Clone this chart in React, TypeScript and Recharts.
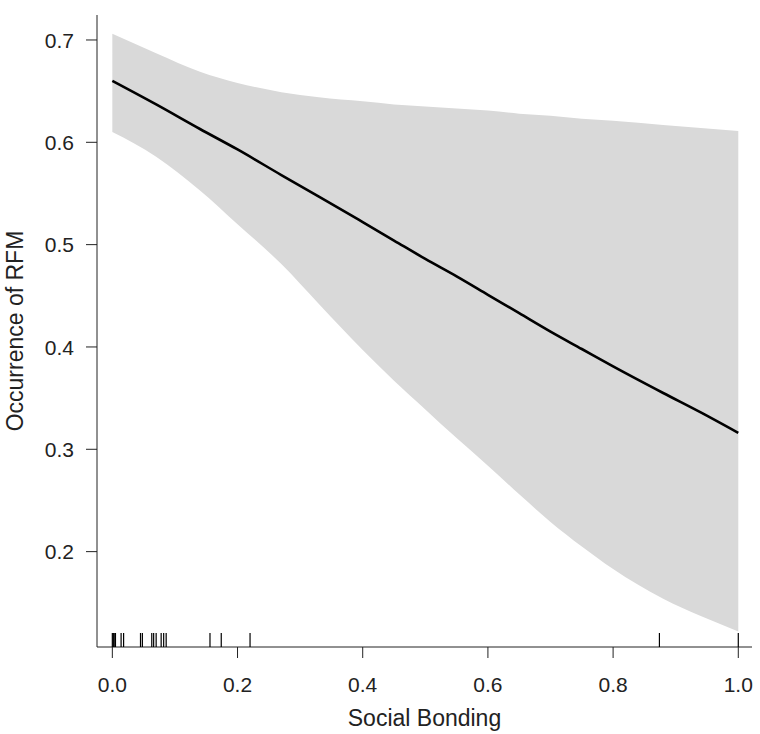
import React from 'react';
import { ComposedChart, Area, Line, Scatter, XAxis, YAxis, Label } from 'recharts';

// Social bonding values at which the fitted curve and its confidence band were read
const xs = [0, 0.07, 0.14, 0.2, 0.27, 0.33, 0.4, 0.45, 0.5, 0.55, 0.6, 0.65, 0.7, 0.75, 0.8, 0.88, 0.94, 1.0];
// Fitted occurrence of RFM
const fit = [0.660, 0.637, 0.613, 0.593, 0.568, 0.547, 0.522, 0.504, 0.486, 0.469, 0.451, 0.433, 0.415, 0.398, 0.381, 0.355, 0.336, 0.316];
// Upper confidence limit
const upper = [0.706, 0.687, 0.669, 0.658, 0.649, 0.644, 0.640, 0.637, 0.635, 0.633, 0.631, 0.628, 0.626, 0.623, 0.621, 0.617, 0.614, 0.611];
// Lower confidence limit
const lower = [0.610, 0.586, 0.553, 0.520, 0.481, 0.442, 0.397, 0.367, 0.339, 0.311, 0.284, 0.256, 0.229, 0.205, 0.183, 0.154, 0.137, 0.122];
// Rug: observed social bonding values
const rug = [0, 0.0016, 0.003, 0.005, 0.014, 0.018, 0.045, 0.048, 0.063, 0.066, 0.070, 0.078, 0.082, 0.086, 0.156, 0.174, 0.220, 0.874, 1.0];

const xTicks = [0, 0.2, 0.4, 0.6, 0.8, 1.0];
const yTicks = [0.2, 0.3, 0.4, 0.5, 0.6, 0.7];

const X_DOMAIN: [number, number] = [-0.0245, 1.0219];
const Y_DOMAIN: [number, number] = [0.1068, 0.7244];

const table = xs.map((x, i) => ({ x, fit: fit[i], band: [lower[i], upper[i]] }));
const rugData = rug.map((x) => ({ x, y: Y_DOMAIN[0] }));

const FONT = '"Liberation Sans", Arial, Helvetica, sans-serif';
const INK = '#222';
const TICK_FS = 21;

const RugMark = (props: any) => {
  const { cx, cy } = props;
  return <line x1={cx} y1={cy} x2={cx} y2={cy - 14} stroke="#000" strokeWidth={1.2} />;
};

const XTick = (props: any) => {
  const { x, y, payload } = props;
  return (
    <text x={x} y={y} dy="0.71em" textAnchor="middle" fill={INK} fontSize={TICK_FS} fontFamily={FONT}>
      {Number(payload.value).toFixed(1)}
    </text>
  );
};

const YTick = (props: any) => {
  const { x, y, payload } = props;
  return (
    <text x={x} y={y} dy="0.36em" textAnchor="end" fill={INK} fontSize={TICK_FS} fontFamily={FONT}>
      {Number(payload.value).toFixed(1)}
    </text>
  );
};

export default function App() {
  return (
    <div style={{ position: 'absolute', left: 0, top: 0, width: 760, height: 734, background: '#fff' }}>
      <ComposedChart
        width={760}
        height={734}
        data={table}
        margin={{ top: 15, right: 8, bottom: 0, left: 0 }}
      >
        <XAxis
          type="number"
          dataKey="x"
          domain={X_DOMAIN}
          ticks={xTicks}
          allowDataOverflow
          height={87}
          tickSize={11}
          tickMargin={19}
          stroke={INK}
          tick={<XTick />}
        >
          <Label
            content={(p: any) => {
              const vb = p.viewBox || {};
              const cx = vb.x + vb.width / 2;
              return (
                <text x={cx} y={726} textAnchor="middle" fill={INK} fontSize={23} fontFamily={FONT}>
                  Social Bonding
                </text>
              );
            }}
          />
        </XAxis>
        <YAxis
          type="number"
          domain={Y_DOMAIN}
          ticks={yTicks}
          allowDataOverflow
          width={97}
          tickSize={11}
          tickMargin={12}
          stroke={INK}
          tick={<YTick />}
        >
          <Label
            content={(p: any) => {
              const vb = p.viewBox || {};
              const cy = vb.y + vb.height / 2;
              return (
                <text
                  x={15}
                  y={cy}
                  transform={`rotate(-90, 15, ${cy})`}
                  textAnchor="middle"
                  dominantBaseline="central"
                  fill={INK}
                  fontSize={23}
                  fontFamily={FONT}
                >
                  Occurrence of RFM
                </text>
              );
            }}
          />
        </YAxis>
        <Area
          type="monotone"
          dataKey="band"
          stroke="none"
          fill="#d9d9d9"
          fillOpacity={1}
          isAnimationActive={false}
          activeDot={false}
        />
        <Line
          type="monotone"
          dataKey="fit"
          stroke="#000"
          strokeWidth={2.6}
          dot={false}
          activeDot={false}
          isAnimationActive={false}
        />
        <Scatter data={rugData} dataKey="y" shape={RugMark} isAnimationActive={false} />
      </ComposedChart>
    </div>
  );
}
